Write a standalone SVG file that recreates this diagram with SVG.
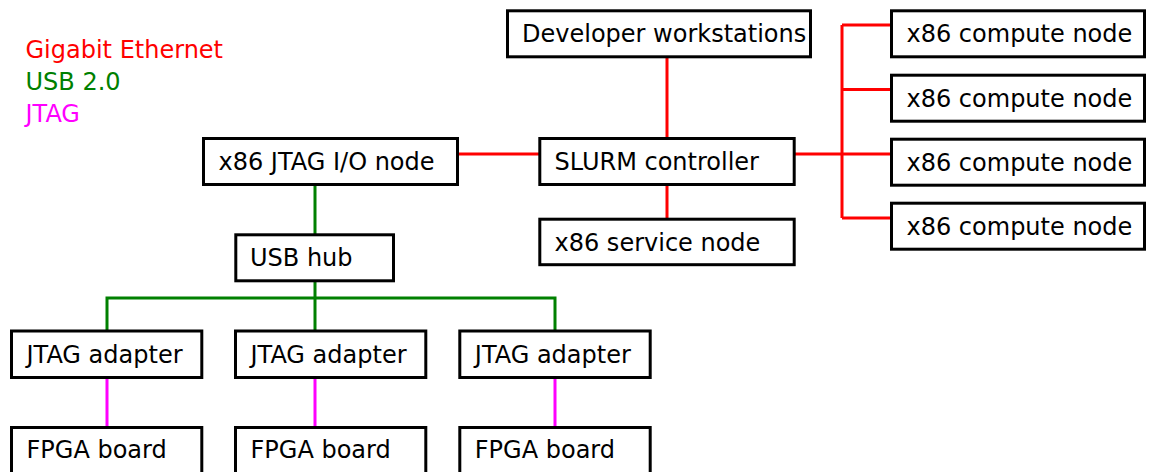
<svg xmlns="http://www.w3.org/2000/svg" width="1149" height="472" viewBox="0 0 1149 472">
<style>
.box{fill:#fff;stroke:#000;stroke-width:3}
text{font-family:"DejaVu Sans","Liberation Sans",sans-serif;font-size:24px;fill:#000}
.eth{stroke:#ff0000;stroke-width:3;fill:none}
.usb{stroke:#008000;stroke-width:3;fill:none}
.jtag{stroke:#ff00ff;stroke-width:3;fill:none}
</style>
<rect width="1149" height="472" fill="#fff"/>
<g id="legend">
<text x="25.5" y="58" style="fill:#ff0000">Gigabit Ethernet</text>
<text x="25.5" y="90" style="fill:#008000">USB 2.0</text>
<text x="25.5" y="122" style="fill:#ff00ff">JTAG</text>
</g>
<g id="connectors">
<path class="eth" d="M667,57 V139 M667,185 V219 M459,154 H540 M794,154 H842 M842,25 V218 M842,25 H891.5 M842,89.5 H891.5 M842,154 H891.5 M842,218 H891.5"/>
<path class="usb" d="M315,185 V235 M315,281 V331 M107,331 V298 H555 V331"/>
<path class="jtag" d="M107,378 V427 M315,378 V427 M555,378 V427"/>
</g>
<g id="dev"><rect class="box" x="507.5" y="10.8" width="303" height="46"/><text x="522" y="42.3">Developer workstations</text></g>
<g id="slurm"><rect class="box" x="539.8" y="138.5" width="254.4" height="46"/><text x="554.5" y="170">SLURM controller</text></g>
<g id="service"><rect class="box" x="539.8" y="219.2" width="254.4" height="45.5"/><text x="554.5" y="250.5">x86 service node</text></g>
<g id="compute1"><rect class="box" x="891.5" y="10.8" width="253" height="46"/><text x="906.5" y="42.3">x86 compute node</text></g>
<g id="compute2"><rect class="box" x="891.5" y="75.2" width="253" height="46"/><text x="906.5" y="106.7">x86 compute node</text></g>
<g id="compute3"><rect class="box" x="891.5" y="139.2" width="253" height="46"/><text x="906.5" y="170.7">x86 compute node</text></g>
<g id="compute4"><rect class="box" x="891.5" y="203.2" width="253" height="46"/><text x="906.5" y="234.7">x86 compute node</text></g>
<g id="jtagio"><rect class="box" x="203.5" y="138.5" width="254" height="46"/><text x="218.5" y="170">x86 JTAG I/O node</text></g>
<g id="usbhub"><rect class="box" x="235.8" y="234.8" width="157.7" height="46"/><text x="250" y="266.3">USB hub</text></g>
<g id="adapter1"><rect class="box" x="11.5" y="331" width="190.3" height="46.5"/><text x="26.5" y="362.5">JTAG adapter</text></g>
<g id="adapter2"><rect class="box" x="235.5" y="331" width="190.3" height="46.5"/><text x="250.5" y="362.5">JTAG adapter</text></g>
<g id="adapter3"><rect class="box" x="459.8" y="331" width="190.4" height="46.5"/><text x="474.8" y="362.5">JTAG adapter</text></g>
<g id="fpga1"><rect class="box" x="11.5" y="427.5" width="190.3" height="47"/><text x="26.5" y="457.5">FPGA board</text></g>
<g id="fpga2"><rect class="box" x="235.5" y="427.5" width="190.3" height="47"/><text x="250.5" y="457.5">FPGA board</text></g>
<g id="fpga3"><rect class="box" x="459.8" y="427.5" width="190.4" height="47"/><text x="474.8" y="457.5">FPGA board</text></g>
</svg>
